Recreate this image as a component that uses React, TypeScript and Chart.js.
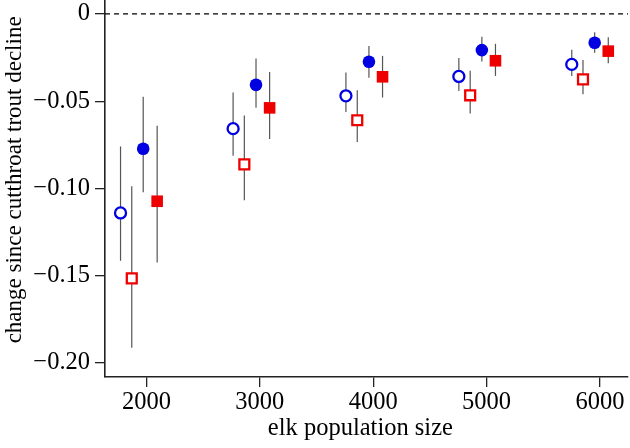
import React, { useEffect, useRef } from "react";
import { Chart, registerables } from "chart.js";

Chart.register(...registerables);

// elk population size for each group / series
const xOpenBlue = [1771, 2764, 3759, 4755, 5751];
const xOpenRed = [1870, 2863, 3859, 4855, 5850];
const xFilledBlue = [1971, 2966, 3962, 4958, 5953];
const xFilledRed = [2094, 3086, 4082, 5078, 6073];

// change since cutthroat trout decline (point estimates)
const yOpenBlue = [-0.114, -0.0657, -0.0469, -0.0358, -0.0289];
const yOpenRed = [-0.1515, -0.0862, -0.0609, -0.0466, -0.0375];
const yFilledBlue = [-0.0772, -0.0406, -0.0274, -0.0207, -0.0165];
const yFilledRed = [-0.1073, -0.0538, -0.036, -0.0268, -0.0213];

// error bar bounds
const loOpenBlue = [-0.1414, -0.0812, -0.0561, -0.0441, -0.0355];
const hiOpenBlue = [-0.0759, -0.045, -0.0335, -0.0253, -0.0205];
const loOpenRed = [-0.1912, -0.1067, -0.0734, -0.0571, -0.046];
const hiOpenRed = [-0.0987, -0.0582, -0.0437, -0.0326, -0.0264];
const loFilledBlue = [-0.1021, -0.0538, -0.0366, -0.0272, -0.0222];
const hiFilledBlue = [-0.0475, -0.0255, -0.0184, -0.013, -0.0105];
const loFilledRed = [-0.1424, -0.0717, -0.0479, -0.0355, -0.0283];
const hiFilledRed = [-0.064, -0.0333, -0.024, -0.0171, -0.0134];

// axes
const xTicks = [2000, 3000, 4000, 5000, 6000];
const yTicks = [0, -0.05, -0.1, -0.15, -0.2];
const xRange = [1634, 6247];
const yRange = [-0.208, 0.008];
const xTitle = "elk population size  ";
const yTitle = "   change since cutthroat trout decline";

const BLUE = "rgb(0,0,225)";
const RED = "rgb(238,0,0)";

const pts = (xs: number[], ys: number[], lo: number[], hi: number[]) =>
  xs.map((x, i) => ({ x, y: ys[i], lo: lo[i], hi: hi[i] }));

const errorBars = {
  id: "errorBars",
  beforeDatasetsDraw(chart: any) {
    const { ctx, scales } = chart;
    const xs = scales.x;
    const ys = scales.y;
    ctx.save();
    ctx.strokeStyle = "#555";
    ctx.lineWidth = 1.2;
    chart.data.datasets.forEach((ds: any) => {
      if (!ds.errorBars) return;
      ds.data.forEach((p: any) => {
        const px = xs.getPixelForValue(p.x);
        ctx.beginPath();
        ctx.moveTo(px, ys.getPixelForValue(p.lo));
        ctx.lineTo(px, ys.getPixelForValue(p.hi));
        ctx.stroke();
      });
    });
    ctx.restore();
  },
};

export default function App() {
  const ref = useRef<HTMLCanvasElement | null>(null);
  useEffect(() => {
    document.body.style.margin = "0";
    const family = "'Liberation Serif', 'Times New Roman', serif";
    const hFont = { family, size: 24.5 };
    const vFont = { family, size: 23 };
    const chart = new Chart(ref.current as HTMLCanvasElement, {
      type: "scatter",
      data: {
        datasets: [
          {
            type: "line",
            data: [
              { x: xRange[0], y: 0 },
              { x: xRange[1], y: 0 },
            ],
            borderColor: "#000",
            borderWidth: 1.3,
            borderDash: [5, 4],
            pointRadius: 0,
          } as any,
          {
            data: pts(xOpenBlue, yOpenBlue, loOpenBlue, hiOpenBlue),
            errorBars: true,
            pointStyle: "circle",
            pointRadius: 5.5,
            borderWidth: 2.3,
            borderColor: BLUE,
            backgroundColor: "#fff",
          } as any,
          {
            data: pts(xOpenRed, yOpenRed, loOpenRed, hiOpenRed),
            errorBars: true,
            pointStyle: "rect",
            pointRadius: 7,
            borderWidth: 2.3,
            borderColor: RED,
            backgroundColor: "#fff",
          } as any,
          {
            data: pts(xFilledBlue, yFilledBlue, loFilledBlue, hiFilledBlue),
            errorBars: true,
            pointStyle: "circle",
            pointRadius: 6.3,
            borderWidth: 0,
            borderColor: BLUE,
            backgroundColor: BLUE,
          } as any,
          {
            data: pts(xFilledRed, yFilledRed, loFilledRed, hiFilledRed),
            errorBars: true,
            pointStyle: "rect",
            pointRadius: 8.2,
            borderWidth: 0,
            borderColor: RED,
            backgroundColor: RED,
          } as any,
        ],
      },
      options: {
        animation: false,
        responsive: false,
        layout: { autoPadding: false, padding: { top: 0, right: 2, left: 0, bottom: 0 } },
        plugins: { legend: { display: false }, tooltip: { enabled: false } },
        scales: {
          x: {
            type: "linear",
            min: xRange[0],
            max: xRange[1],
            afterBuildTicks: (s: any) => {
              s.ticks = xTicks.map((v) => ({ value: v }));
            },
            afterFit: (s: any) => {
              s.height = 71;
              s.paddingLeft = 0;
              s.paddingRight = 0;
            },
            grid: { display: true, drawOnChartArea: false, drawTicks: true, tickLength: 10, color: "#222", lineWidth: 1.3 },
            border: { display: true, color: "#222", width: 1.6 },
            ticks: { color: "#000", font: hFont, padding: 1, maxRotation: 0, autoSkip: false, callback: (v: any) => String(v) },
            title: { display: true, text: xTitle, color: "#000", font: hFont, padding: { top: 0, bottom: 5 } },
          },
          y: {
            type: "linear",
            min: yRange[0],
            max: yRange[1],
            afterBuildTicks: (s: any) => {
              s.ticks = yTicks.map((v) => ({ value: v }));
            },
            afterFit: (s: any) => {
              s.width = 105;
              s.paddingTop = 0;
              s.paddingBottom = 0;
            },
            grid: { display: true, drawOnChartArea: false, drawTicks: true, tickLength: 10, color: "#222", lineWidth: 1.3 },
            border: { display: true, color: "#222", width: 1.6 },
            ticks: {
              color: "#000",
              font: hFont,
              padding: 5,
              autoSkip: false,
              callback: (v: any) => (Math.abs(v) < 1e-9 ? "0" : "\u2212" + Math.abs(v).toFixed(2)),
            },
            title: { display: true, text: yTitle, color: "#000", font: vFont, padding: { top: 1, bottom: 0 } },
          },
        },
      } as any,
      plugins: [errorBars],
    });
    return () => chart.destroy();
  }, []);
  return <canvas ref={ref} width={630} height={448} style={{ display: "block" }} />;
}
